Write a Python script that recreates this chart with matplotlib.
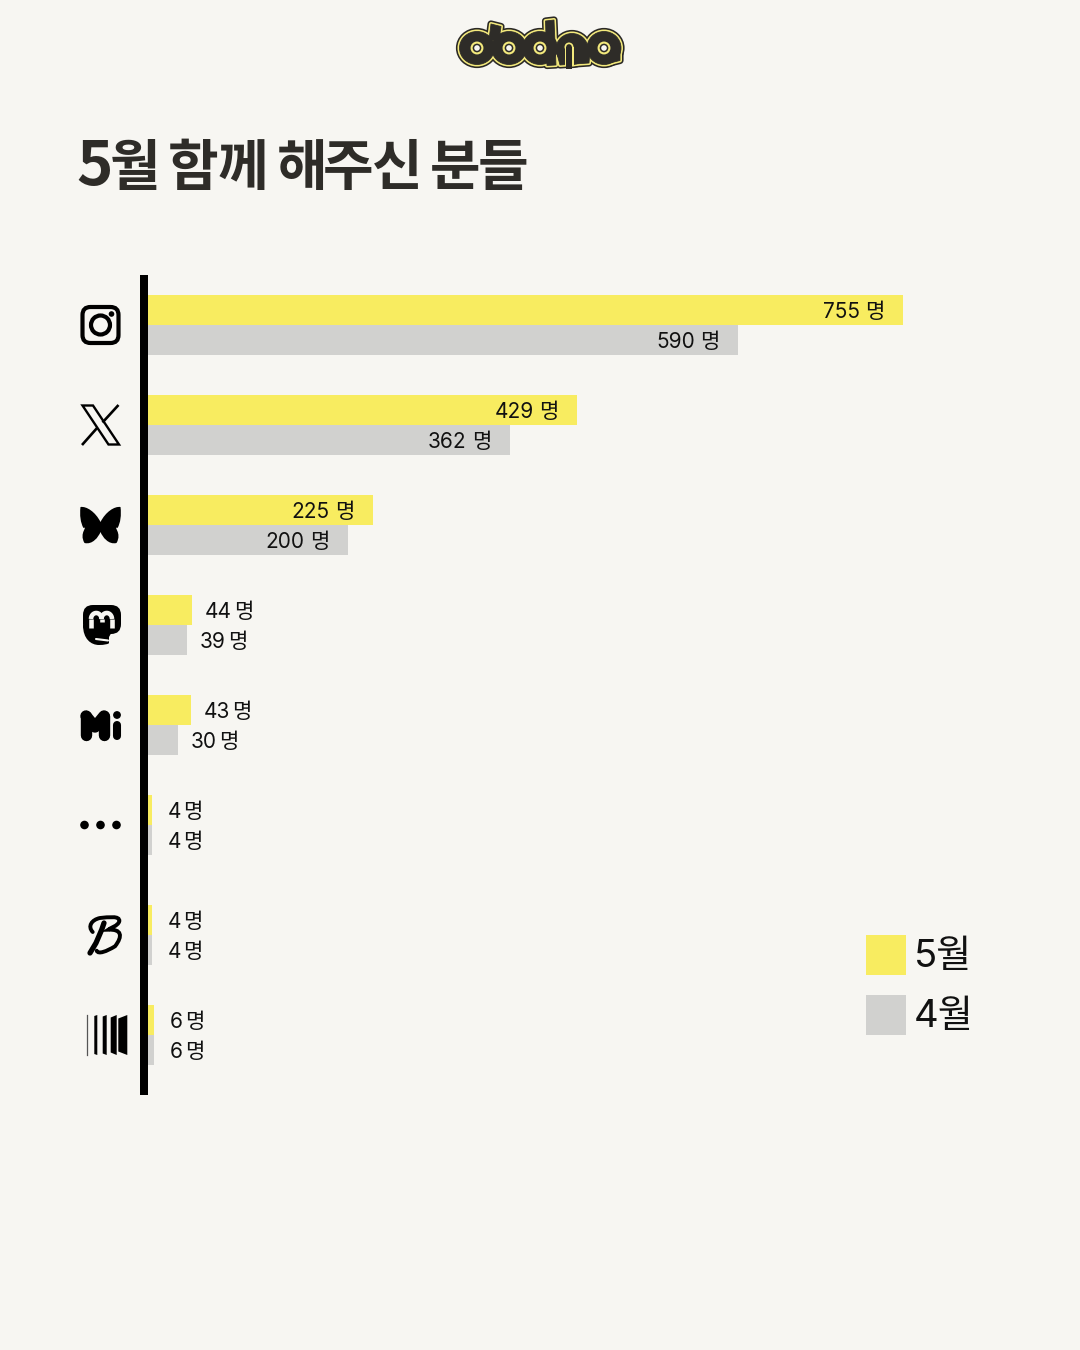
# -*- coding: utf-8 -*-
"""monthly supporter counts per platform"""

import matplotlib
matplotlib.use("Agg")
import matplotlib.pyplot as plt
import numpy as np
from matplotlib.font_manager import FontProperties
from matplotlib.patches import Circle, Ellipse, FancyBboxPatch, PathPatch, Polygon, Rectangle
from matplotlib.path import Path
from matplotlib.textpath import TextPath

platforms = ["instagram", "x", "bluesky", "mastodon", "misskey", "etc", "bstage", "weverse"]
may_values = [755, 429, 225, 44, 43, 4, 4, 6]
apr_values = [590, 362, 200, 39, 30, 4, 4, 6]
title_text = "5월 함께 해주신 분들"
unit = "명"
legend_labels = ["5월", "4월"]

BG = "#f7f6f2"
YELLOW = "#f8ec60"
GREY = "#d1d1cf"
INK = "#2e2c28"
LOGO_LINE = "#f3e97c"

# row tops in pixels, rows are not quite evenly spaced near the bottom
row_tops = [295, 395, 495, 595, 695, 795, 905, 1005]
bar_h = 30
LABEL_FONT = ["Inter", "Noto Sans CJK KR"]
KR_FONT = ["Noto Sans CJK KR", "DejaVu Sans"]

fig = plt.figure(figsize=(10.8, 13.5), dpi=100, facecolor=BG)
renderer = fig.canvas.get_renderer()

# full-figure pixel axes for everything around the bars
page = fig.add_axes([0, 0, 1, 1])
page.set_xlim(0, 1080)
page.set_ylim(1350, 0)
page.axis("off")

# bar axes: x is people, one person = one pixel, starts right of the spine
chart = fig.add_axes([148 / 1080, 0, (1080 - 148) / 1080, 1])
chart.set_xlim(0, 1080 - 148)
chart.set_ylim(1350, 0)
chart.axis("off")
chart.patch.set_alpha(0)

page.add_patch(Rectangle((140, 275), 8, 820, color="black", lw=0))

tops = np.array(row_tops)
chart.barh(tops + bar_h / 2, may_values, height=bar_h, color=YELLOW, lw=0)
chart.barh(tops + bar_h * 1.5, apr_values, height=bar_h, color=GREY, lw=0)


def spaced_title(x, y, text, size, gap, word_gap):
    """one glyph at a time, ink edge to ink edge, so the spacing stays tight"""
    fp = FontProperties(family=KR_FONT, weight="black")
    for ch in text:
        if ch == " ":
            x += word_gap
            continue
        s = size * 1.12 if ch.isdigit() else size
        box = TextPath((0, 0), ch, size=s, prop=fp).get_extents()
        page.text(x - box.x0, y, ch, va="baseline", ha="left", color=INK,
                  family=KR_FONT, fontweight="black", fontsize=s * 0.72)
        x += box.x1 - box.x0 + gap
    return x


def value_label(y, value):
    # long bars carry the number inside, short bars beside the end
    num_kw = dict(va="center_baseline", fontsize=15, family=LABEL_FONT, color="#111111")
    unit_kw = dict(va="center_baseline", fontsize=15.2, family=KR_FONT, fontweight="medium", color="#111111")
    if value > 100:
        u = chart.text(value - 19, y, unit, ha="right", **unit_kw)
        w = u.get_window_extent(renderer).width
        chart.text(value - 19 - w - 5, y, str(value), ha="right", **num_kw)
    else:
        left = value + (16 if value < 10 else 13)
        n = chart.text(left, y, str(value), ha="left", **num_kw)
        w = n.get_window_extent(renderer).width
        chart.text(left + w + 2, y, unit, ha="left", **unit_kw)


for top, m, a in zip(row_tops, may_values, apr_values):
    value_label(top + bar_h / 2, m)
    value_label(top + bar_h * 1.5, a)

spaced_title(78, 185, title_text, 55, 2.5, 11.7)

# legend
for y, c, lab in zip([935, 995], [YELLOW, GREY], legend_labels):
    page.add_patch(Rectangle((866, y), 40, 40, color=c, lw=0))
    page.text(914, y + 22, lab, fontsize=27.5, family=LABEL_FONT, va="center", color="#111111")


def draw_instagram(cx, cy):
    page.add_patch(FancyBboxPatch((cx - 16, cy - 16), 32, 32, boxstyle="round,pad=2,rounding_size=8",
                                  fc="none", ec="black", lw=3.0))
    page.add_patch(Circle((cx, cy), 9.5, fc="none", ec="black", lw=3.0))
    page.add_patch(Circle((cx + 11, cy - 11), 2.8, color="black", lw=0))


def draw_x(cx, cy):
    # outlined slanted stroke plus the thin counter-stroke
    page.add_patch(Polygon([(cx - 18, cy - 19.5), (cx - 7.5, cy - 19.5), (cx + 18.5, cy + 19.5), (cx + 8, cy + 19.5)],
                           closed=True, fc="none", ec="black", lw=1.7, joinstyle="miter"))
    page.plot([cx + 18, cx + 2], [cy - 20, cy - 2.5], color="black", lw=1.9, solid_capstyle="butt")
    page.plot([cx - 18.5, cx - 3], [cy + 20, cy + 2.5], color="black", lw=1.9, solid_capstyle="butt")


def draw_bluesky(cx, cy):
    verts = [(cx, cy - 3), (cx - 5, cy - 13), (cx - 14, cy - 19), (cx - 20, cy - 18),
             (cx - 21, cy - 10), (cx - 20, cy - 2), (cx - 17, cy + 3), (cx - 12, cy + 1),
             (cx - 22, cy + 8), (cx - 16, cy + 18), (cx - 8, cy + 20), (cx - 2, cy + 12),
             (cx, cy + 7), (cx, cy + 7), (cx + 2, cy + 12), (cx + 8, cy + 20),
             (cx + 16, cy + 18), (cx + 22, cy + 8), (cx + 12, cy + 1), (cx + 17, cy + 3),
             (cx + 20, cy - 2), (cx + 21, cy - 10), (cx + 20, cy - 18), (cx + 14, cy - 19),
             (cx + 5, cy - 13), (cx, cy - 3)]
    codes = [Path.MOVETO] + [Path.CURVE4] * 12 + [Path.LINETO] + [Path.CURVE4] * 12
    page.add_patch(PathPatch(Path(verts, codes), fc="black", lw=0))


def draw_mastodon(cx, cy):
    page.add_patch(FancyBboxPatch((cx - 18, cy - 20), 38, 29, boxstyle="round,pad=0,rounding_size=10",
                                  fc="black", lw=0))
    tail = [(cx - 18, cy), (cx - 18, cy + 14), (cx - 10, cy + 20), (cx - 2, cy + 20),
            (cx + 3, cy + 20), (cx + 8, cy + 19), (cx + 8, cy + 18), (cx + 8, cy + 12), (cx + 12, cy + 5)]
    codes = [Path.MOVETO, Path.CURVE4, Path.CURVE4, Path.CURVE4,
             Path.CURVE4, Path.CURVE4, Path.CURVE4, Path.LINETO, Path.LINETO]
    page.add_patch(PathPatch(Path(tail, codes), fc="black", lw=0))
    page.plot([cx - 5, cx + 7], [cy + 14, cy + 15.5], color=BG, lw=1.5, solid_capstyle="round")
    # the m, two arches over three stems
    xs = [cx - 10, cx + 0.5, cx + 11]
    arch = dict(color=BG, lw=3.3, solid_capstyle="butt")
    page.plot([xs[0], xs[0]], [cy + 3, cy - 6], **arch)
    page.plot([xs[2], xs[2]], [cy + 3, cy - 6], **arch)
    page.plot([xs[1], xs[1]], [cy - 3, cy - 6], **arch)
    t = np.linspace(np.pi, 2 * np.pi, 20)
    page.plot(xs[0] + 5.25 + 5.25 * np.cos(t), cy - 6 + 6 * np.sin(t), **arch)
    page.plot(xs[1] + 5.25 + 5.25 * np.cos(t), cy - 6 + 6 * np.sin(t), **arch)


def draw_misskey(cx, cy):
    kw = dict(color="black", lw=8.2, solid_capstyle="round", solid_joinstyle="round")
    page.plot([cx - 14.5, cx - 14.5], [cy - 9, cy + 10], **kw)
    page.plot([cx + 3.5, cx + 3.5], [cy - 9, cy + 10], **kw)
    page.plot([cx - 14.5, cx - 5.5, cx + 3.5], [cy - 9, cy + 2, cy - 9], **kw)
    page.add_patch(Circle((cx + 16.5, cy - 10), 3.9, color="black", lw=0))
    page.plot([cx + 16.5, cx + 16.5], [cy + 0, cy + 11], color="black", lw=5.8, solid_capstyle="round")


def draw_dots(cx, cy):
    for dx in (-16, 0, 16):
        page.add_patch(Circle((cx + dx, cy), 4.3, color="black", lw=0))


def draw_bstage(cx, cy):
    # brush-script B, heavy down stroke then one loop over the top and bowl
    page.plot([cx + 1, cx - 1.3, cx - 7, cx - 13], [cy - 12, cy - 5.3, cy + 8, cy + 18],
              color="black", lw=3.8, solid_capstyle="round")
    loop = [(-10.3, -3), (-15.7, -8.7), (-11.3, -15.3), (-3, -17),
            (5.3, -17.7), (17, -19.7), (16.3, -13.7),
            (15, -9), (7, -7), (5.3, -5.3),
            (18.7, -6), (20, 1), (12, 11.3),
            (3.7, 16.3), (-4.7, 19.7), (-6.3, 15.7)]
    codes = [Path.MOVETO] + [Path.CURVE4] * 15
    verts = [(cx + a, cy + b) for a, b in loop]
    page.add_patch(PathPatch(Path(verts, codes), fc="none", ec="black", lw=2.8, capstyle="round"))


def draw_weverse(cx, cy):
    # thin hairline, then four strips fanning wider towards the right
    page.plot([cx - 19.7, cx - 19.7], [cy - 20, cy + 20], color="#555555", lw=0.9)
    strips = [(-12.7, -9.7, 1.0), (-4.3, -0.3, 1.5), (3.7, 9.7, 2.5), (11.3, 20.3, 3.5)]
    for l, r, inset in strips:
        page.add_patch(Polygon([(cx + l, cy - 20 + inset), (cx + r, cy - 20), (cx + r, cy + 20), (cx + l, cy + 20 - inset)],
                               closed=True, fc="black", lw=0))


draw_instagram(100.5, 325)
draw_x(100.5, 425)
draw_bluesky(100.5, 525)
draw_mastodon(101, 625)
draw_misskey(100.5, 725)
draw_dots(100.5, 825)
draw_bstage(103, 935)
draw_weverse(107, 1035)


def logo_layer(color, grow, z):
    """one pass of the wordmark shapes, grown outward by grow pixels"""
    style = dict(fc=color, ec=color, lw=2 * grow * 0.72, joinstyle="round", zorder=z)
    for cx in (477, 509, 540):
        page.add_patch(Ellipse((cx, 48), 35, 33, **style))
    # a has its own bowl and the n arch sits just before it
    page.add_patch(Ellipse((604, 48), 34, 33, **style))
    page.add_patch(Ellipse((572, 49), 32, 31, **style))
    # ascenders lean a little, opposite ways
    page.add_patch(Polygon([(491, 24), (501, 26.5), (499, 40), (489, 40)], closed=True, **style))
    page.add_patch(Polygon([(545.5, 21), (554, 20), (556, 65), (547, 65.5)], closed=True, **style))
    # n down strokes and the tail of the a
    page.add_patch(Polygon([(556, 50), (590, 50), (589, 63), (560, 65)], closed=True, **style))
    page.add_patch(Polygon([(604, 50), (620, 48), (620, 60.5), (606, 64)], closed=True, **style))


logo_layer("#2a2825", 3.6, 5)
logo_layer(LOGO_LINE, 2.0, 5.1)
logo_layer(INK, 0.4, 5.2)
# slot of the n, open at the foot
page.add_patch(Rectangle((564.5, 47), 9, 18.5, color=LOGO_LINE, lw=0, zorder=7))
page.add_patch(Circle((569, 47), 4.5, color=LOGO_LINE, lw=0, zorder=7))
page.add_patch(Rectangle((566.2, 47), 5.6, 21.5, color="#2a2825", lw=0, zorder=7.1))
page.add_patch(Circle((569, 47), 2.8, color="#2a2825", lw=0, zorder=7.1))
for cx in (477, 509, 540, 604):
    page.add_patch(Circle((cx, 48), 5.4, fc=INK, ec=LOGO_LINE, lw=1.5, zorder=8))
    page.add_patch(Circle((cx, 48), 2.8, fc=BG, lw=0, zorder=8.1))

fig.savefig("out.png", dpi=100, facecolor=BG)
